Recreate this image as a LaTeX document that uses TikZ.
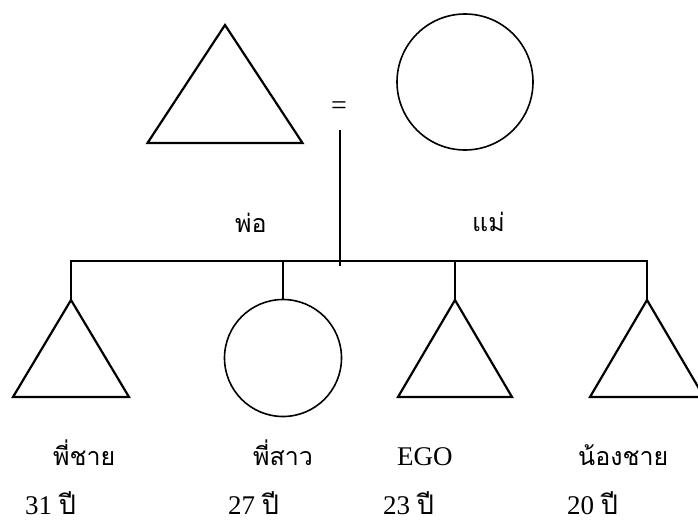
\documentclass[tikz,border=0pt]{standalone}
\usepackage{fontspec}
\setmainfont{Liberation Serif}
\newfontfamily\thaifont[Script=Thai]{Loma}
\usetikzlibrary{shapes.geometric}

\begin{document}
\begin{tikzpicture}[x=1pt,y=-1pt,line join=miter,
  male/.style={draw,isosceles triangle,shape border rotate=90,isosceles triangle stretches,
    inner sep=0pt,outer sep=0pt,line width=2.2pt,anchor=apex},
  female/.style={draw,circle,inner sep=0pt,outer sep=0pt,line width=1.6pt},
  lbl/.style={inner sep=0pt,anchor=base west,font=\fontsize{27}{30}\selectfont},
  tl/.style={inner sep=0pt,anchor=base west,font=\fontsize{25}{28}\thaifont}]
  \useasboundingbox (0,0) rectangle (698,525);
  \node[male,minimum width=155pt,minimum height=118pt] (fa) at (225,25) {};
  \node[female,minimum size=136pt] (mo) at (465,82) {};
  \node[inner sep=0pt,font=\fontsize{28}{30}\selectfont] (eq) at (339,108) {=};
  \coordinate (mtop) at (340,130);
  \coordinate (mbot) at (340,266);
  \coordinate (bl) at (71,261);
  \coordinate (br) at (647,261);
  \node[male,minimum width=116pt,minimum height=97pt] (s1) at (71,300) {};
  \node[female,minimum size=117pt] (s2) at (283,358) {};
  \node[male,minimum width=114pt,minimum height=97pt] (ego) at (455,300) {};
  \node[male,minimum width=114pt,minimum height=97pt] (s4) at (647,300) {};
  \draw[line width=1.6pt] (mtop) -- (mbot);
  \draw[line width=1.6pt] (s1.apex) -- (bl) -- (br) -- (s4.apex);
  \draw[line width=1.6pt] (s2.north) -- (s2.north |- bl);
  \draw[line width=1.6pt] (ego.apex) -- (ego.apex |- bl);
  \node[tl] (lfa) at (235,232) {พ่อ};
  \node[tl] (lmo) at (472,231) {แม่};
  \node[tl] (l1) at (53,465) {พี่ชาย};
  \node[tl] (l2) at (253,465) {พี่สาว};
  \node[lbl] (l3) at (397,465) {EGO};
  \node[tl] (l4) at (578,465) {น้องชาย};
  \node[lbl] (a1) at (25,514) {31 {\thaifont ปี}};
  \node[lbl] (a2) at (228,514) {27 {\thaifont ปี}};
  \node[lbl] (a3) at (383,514) {23 {\thaifont ปี}};
  \node[lbl] (a4) at (567,514) {20 {\thaifont ปี}};
\end{tikzpicture}
\end{document}
